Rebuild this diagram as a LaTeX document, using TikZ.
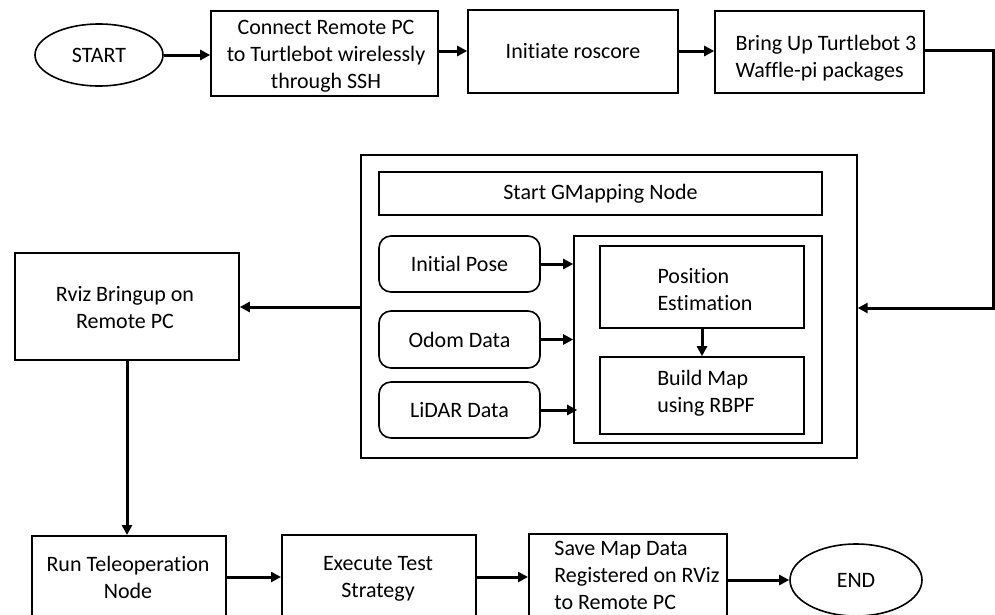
\documentclass[tikz,border=0pt]{standalone}
\usepackage{fontspec}
\setmainfont{Carlito}[Ligatures=NoCommon]
\usetikzlibrary{arrows.meta,shapes.geometric}
\begin{document}
\begin{tikzpicture}[x=1pt,y=-1pt,
  every node/.style={font=\fontsize{22}{27}\selectfont},
  box/.style={draw, line width=1.6pt, inner sep=0pt, align=center},
  rbox/.style={box, rounded corners=12pt},
  oval/.style={draw, ellipse, line width=1.6pt, inner sep=0pt},
  txt/.style={inner sep=0pt, align=left},
  flow/.style={line width=3pt, -{Triangle[length=10pt,width=10pt]}}
]
\useasboundingbox (0,0) rectangle (995,614);
\clip (0,0) rectangle (995,614);

% top row
\node[oval, minimum width=128, minimum height=62] (start) at (99,55) {START};
\node[box, minimum width=227, minimum height=85] (connect) at (324.5,53.5) {};
\node[txt, align=center] (connecttxt) at (326,56.5) {Connect Remote PC\\to Turtlebot wirelessly\\through SSH};
\node[box, minimum width=210, minimum height=83] (roscore) at (573,51.5) {Initiate roscore};
\node[box, minimum width=209, minimum height=82] (bringup) at (819.5,52) {};
\node[txt] (bringuptxt) at (826,58) {Bring Up Turtlebot 3\\Waffle-pi packages};

% GMapping block
\node[box, line width=1.4pt, minimum width=496, minimum height=303] (gmap) at (609,306.5) {};
\node[box, minimum width=443, minimum height=43] (gstart) at (600.5,193.5) {Start GMapping Node};
\node[box, minimum width=248, minimum height=207] (core) at (698,339.5) {};
\node[box, minimum width=204, minimum height=82] (pose) at (702,287) {};
\node[txt] (posetxt) at (705,289.5) {Position\\Estimation};
\node[box, minimum width=204, minimum height=77] (build) at (702,395.5) {};
\node[txt] (buildtxt) at (706,393.5) {Build Map\\using RBPF};
\node[rbox, minimum width=161, minimum height=56] (init) at (459.5,264) {Initial Pose};
\node[rbox, minimum width=161, minimum height=57] (odom) at (459.5,339.5) {Odom Data};
\node[rbox, minimum width=161, minimum height=56] (lidar) at (459.5,410) {LiDAR Data};

% left column
\node[box, minimum width=224, minimum height=107] (rviz) at (127,306.5) {};
\node[txt, align=center] (rviztxt) at (125,307.5) {Rviz Bringup on\\Remote PC};

% bottom row
\node[box, minimum width=194, minimum height=100, anchor=north west] (tele) at (31,535) {};
\node[txt, align=center] (teletxt) at (128,577.5) {Run Teleoperation\\Node};
\node[box, minimum width=194, minimum height=100, anchor=north west] (test) at (281,534) {};
\node[txt, align=center] (testtxt) at (378,579) {Execute Test\\Strategy};
\node[box, minimum width=198, minimum height=100, anchor=north west] (save) at (528,533) {};
\node[txt] (savetxt) at (637,575) {Save Map Data\\Registered on RViz\\to Remote PC};
\node[oval, minimum width=132, minimum height=72] (end) at (856,580) {END};

% connectors
\coordinate (turn1) at (993,50);
\coordinate (turn2) at (993,308);
\draw[flow] (start.east) -- (connect.west |- start.east);
\draw[flow] (connect.east |- 0,51) -- (roscore.west |- 0,51);
\draw[flow] (roscore.east |- 0,51) -- (bringup.west |- 0,51);
\draw[flow] (bringup.east |- turn1) -- (turn1) -- (turn2) -- (gmap.east |- turn2);
\draw[flow] (init.east) -- (core.west |- init.east);
\draw[flow] (odom.east) -- (core.west |- odom.east);
\draw[flow] (lidar.east) -- ([xshift=4pt]core.west |- lidar.east);
\draw[flow] (pose.south) -- (build.north);
\draw[flow] (gmap.west |- 0,307) -- (rviz.east |- 0,307);
\draw[flow] (rviz.south) -- (rviz.south |- tele.north);
\draw[flow] (tele.east |- 0,577) -- (test.west |- 0,577);
\draw[flow] (test.east |- 0,577) -- (save.west |- 0,577);
\draw[flow] (save.east |- end.west) -- (end.west);
\end{tikzpicture}
\end{document}
